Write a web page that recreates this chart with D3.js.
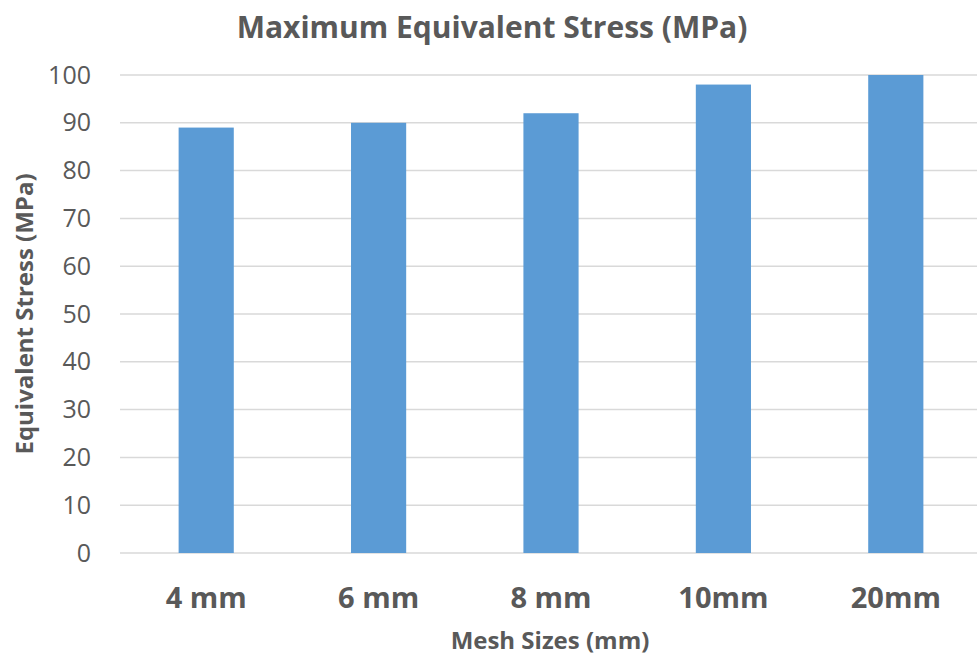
<!DOCTYPE html>
<html>
<head>
<meta charset="utf-8">
<script src="https://cdn.jsdelivr.net/npm/d3@7"></script>
<style>
  body { margin: 0; background: #fff; }
  text { font-family: "Open Sans", sans-serif; fill: #595959; }
</style>
</head>
<body>
<svg width="977" height="660"></svg>
<script>
// mesh sizes and the max stress
var meshSizes = ["4 mm", "6 mm", "8 mm", "10mm", "20mm"];
var stressValues = [89, 90, 92, 98, 100];
var yTicks = [0, 10, 20, 30, 40, 50, 60, 70, 80, 90, 100];

var svg = d3.select("svg");

var margin = {top: 75, left: 120, bottom: 107},
    width = 862,
    height = 660 - margin.top - margin.bottom;

var x = d3.scaleBand().domain(meshSizes).range([0, width]).paddingInner(0.68).paddingOuter(0.34);
var y = d3.scaleLinear().domain([0, 100]).range([height, 0]);

var g = svg.append("g")
    .attr("transform", "translate(" + margin.left + "," + margin.top + ")");

// gridlines
g.selectAll(".grid")
    .data(yTicks)
  .enter().append("line")
    .attr("x1", 0)
    .attr("x2", width)
    .attr("y1", function(d) { return y(d); })
    .attr("y2", function(d) { return y(d); })
    .style("stroke", "#d9d9d9")
    .style("stroke-width", 1.5);

// y tick labels
var yAxis = g.append("g")
    .call(d3.axisLeft(y).tickValues(yTicks).tickSize(0).tickPadding(29));
yAxis.select(".domain").remove();
yAxis.selectAll("text")
    .style("font-size", "25px")
    .style("fill", "#595959");

// bars
g.selectAll(".bar")
    .data(stressValues)
  .enter().append("rect")
    .attr("x", function(d, i) { return x(meshSizes[i]); })
    .attr("width", x.bandwidth())
    .attr("y", function(d) { return y(d); })
    .attr("height", function(d) { return height - y(d); })
    .style("fill", "#5b9bd5");

// x tick labels
var xAxis = g.append("g")
    .attr("transform", "translate(0," + height + ")")
    .call(d3.axisBottom(x).tickSize(0).tickPadding(34));
xAxis.select(".domain").remove();
xAxis.selectAll("text")
    .style("font-size", "29px")
    .style("font-weight", "bold")
    .style("fill", "#595959");

// title
svg.append("text")
    .attr("x", 492)
    .attr("y", 38)
    .attr("text-anchor", "middle")
    .style("font-size", "30px")
    .style("font-weight", "bold")
    .text("Maximum Equivalent Stress (MPa)");

// x axis title
svg.append("text")
    .attr("x", 550)
    .attr("y", 649)
    .attr("text-anchor", "middle")
    .style("font-size", "24px")
    .style("font-weight", "bold")
    .text("Mesh Sizes (mm)");

// y axis title
svg.append("text")
    .attr("transform", "translate(33,314) rotate(-90)")
    .attr("text-anchor", "middle")
    .style("font-size", "24px")
    .style("font-weight", "bold")
    .text("Equivalent Stress (MPa)");
</script>
</body>
</html>
